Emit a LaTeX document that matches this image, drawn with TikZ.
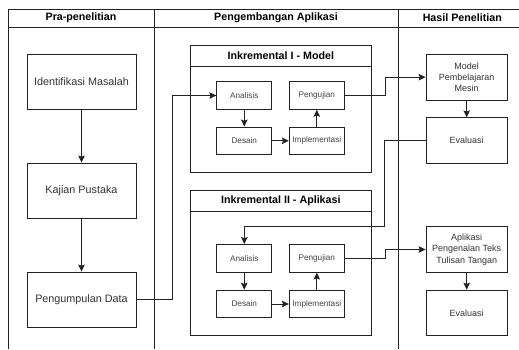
\documentclass[tikz,border=0pt]{standalone}
\usepackage{fontspec}
\setmainfont{Liberation Sans}
\usetikzlibrary{arrows.meta}
\definecolor{ln}{HTML}{222222}
\definecolor{tx}{HTML}{333333}
\definecolor{txs}{HTML}{444444}
\tikzset{
  lane/.style={draw=ln, line width=0.9pt},
  hdr/.style={font=\fontsize{10.7}{12}\selectfont\bfseries, text=black, inner sep=0pt},
  bigbox/.style={draw=ln, fill=white, line width=0.9pt, minimum width=109pt, minimum height=55pt, inner sep=1pt, font=\fontsize{10.8}{13}\selectfont, text=tx},
  resbox/.style={draw=ln, fill=white, line width=0.9pt, minimum width=81.3pt, minimum height=45.7pt, inner sep=1pt, align=center, font=\fontsize{9}{11.3}\selectfont, text=tx},
  smallbox/.style={draw=ln, fill=white, line width=0.9pt, minimum width=55pt, minimum height=27.6pt, inner sep=0.5pt, font=\fontsize{8.2}{10}\selectfont, text=txs},
  container/.style={draw=ln, fill=white, line width=0.9pt},
  arr/.style={draw=ln, line width=0.9pt, -{Stealth[length=7pt,width=6.5pt,inset=1.2pt]}},
  conn/.style={draw=ln, line width=0.9pt}
}
\begin{document}
\begin{tikzpicture}[x=1pt,y=-1pt]
\useasboundingbox (0,0) rectangle (519,349);
\fill[white] (0,0) rectangle (519,349);
% swimlanes
\draw[lane] (8,349) -- (8,9) -- (519,9);
\draw[lane] (8,27) -- (519,27);
\draw[lane] (154,9) -- (154,349);
\draw[lane] (398,9) -- (398,349);
\node[hdr] (h1) at (81,18) {Pra-penelitian};
\node[hdr] (h2) at (276,18) {Pengembangan Aplikasi};
\node[hdr] (h3) at (462.3,18) {Hasil Penelitian};
% containers
\draw[container] (190,45) rectangle (371.7,172.7);
\draw[lane] (190,66) -- (371.7,66);
\node[hdr] (c1) at (280.8,55.5) {Inkremental I - Model};
\draw[container] (190,190.7) rectangle (371.7,335.5);
\draw[lane] (190,211.5) -- (371.7,211.5);
\node[hdr] (c2) at (280.8,201.1) {Inkremental II - Aplikasi};
% Pra-penelitian
\node[bigbox] (id) at (81.5,81.5) {Identifikasi Masalah};
\node[bigbox] (kp) at (81.5,190.5) {Kajian Pustaka};
\node[bigbox] (pd) at (81.5,299.5) {Pengumpulan Data};
% Inkremental I
\node[smallbox] (a1) at (244.3,95.5) {Analisis};
\node[smallbox] (d1) at (244.3,140.8) {Desain};
\node[smallbox] (i1) at (316.8,140.8) {Implementasi};
\node[smallbox] (p1) at (316.8,95.5) {Pengujian};
% Inkremental II
\node[smallbox] (a2) at (244.3,258.3) {Analisis};
\node[smallbox] (d2) at (244.3,304) {Desain};
\node[smallbox] (i2) at (316.8,304) {Implementasi};
\node[smallbox] (p2) at (316.8,258.3) {Pengujian};
% Hasil
\node[resbox] (m) at (466.7,77.2) {Model\\Pembelajaran\\Mesin};
\node[resbox] (e1) at (466.7,140.7) {Evaluasi};
\node[resbox] (ap) at (466.7,249.5) {Aplikasi\\Pengenalan Teks\\Tulisan Tangan};
\node[resbox] (e2) at (466.7,313) {Evaluasi};
% connectors
\draw[arr] (id) -- (kp);
\draw[arr] (kp) -- (pd);
\draw[arr] (pd.east) -- ++(36,0) |- (a1.west);
\draw[arr] (a1) -- (d1);
\draw[arr] (d1) -- (i1);
\draw[arr] (i1) -- (p1);
\draw[arr] (p1.east) -- ++(40.7,0) |- (m.west);
\draw[arr] (m) -- (e1);
\draw[arr] (e1.west) -- ++(-40.7,0) -- ++(0,86) -| (a2.north);
\draw[arr] (a2) -- (d2);
\draw[arr] (d2) -- (i2);
\draw[arr] (i2) -- (p2);
\draw[arr] (p2.east) -- ++(40.7,0) |- (ap.west);
\draw[arr] (ap) -- (e2);
\end{tikzpicture}
\end{document}
